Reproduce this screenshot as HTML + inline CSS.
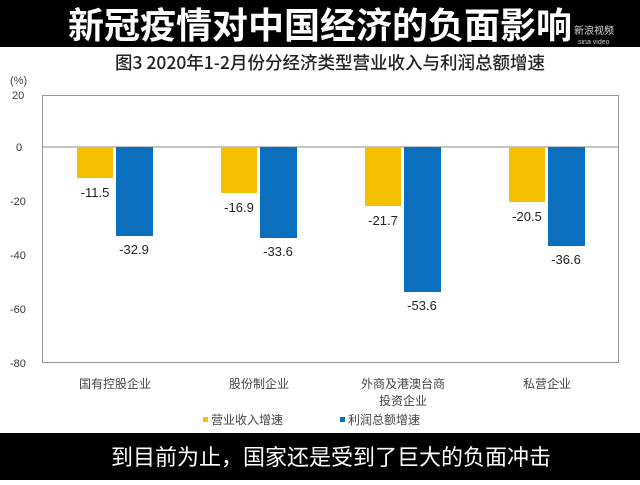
<!DOCTYPE html>
<html><head><meta charset="utf-8"><style>
body{margin:0;width:640px;height:480px;overflow:hidden;background:#fff;font-family:"Liberation Sans","Noto Sans CJK SC",sans-serif}
</style></head><body>
<svg width="640" height="480" xmlns="http://www.w3.org/2000/svg" font-family="'Liberation Sans','Noto Sans CJK SC',sans-serif">
<rect width="640" height="480" fill="#fff"/>
<rect x="0" y="0" width="640" height="47" fill="#000"/>
<text x="320" y="38" font-size="36" font-weight="bold" fill="#fff" text-anchor="middle" font-family="'Noto Sans CJK SC',sans-serif">新冠疫情对中国经济的负面影响</text>
<text x="574" y="34" font-size="10" fill="#ddd" font-family="'Noto Sans CJK SC',sans-serif">新浪视频</text>
<text x="578" y="44" font-size="7" fill="#ccc">sina video</text>
<text x="330" y="69" font-size="17.5" font-weight="500" fill="#222" text-anchor="middle" font-family="'Noto Sans CJK SC',sans-serif">图3  2020年1-2月份分经济类型营业收入与利润总额增速</text>
<text x="10" y="84" font-size="11" fill="#444">(%)</text>
<rect x="42.5" y="95.5" width="576" height="267" fill="none" stroke="#999" stroke-width="1"/>
<line x1="42" y1="147" x2="618" y2="147" stroke="#888" stroke-width="1"/>
<g font-size="11" fill="#333">
<text x="12" y="99">20</text><text x="16" y="151">0</text><text x="10" y="205">-20</text><text x="10" y="259">-40</text><text x="10" y="313">-60</text><text x="10" y="367">-80</text>
</g>
<g fill="#F5C000">
<rect x="77" y="147" width="36" height="31"/>
<rect x="221" y="147" width="36" height="46"/>
<rect x="365" y="147" width="36" height="59"/>
<rect x="509" y="147" width="36" height="55"/>
</g>
<g fill="#0A6FBF">
<rect x="116" y="147" width="37" height="89"/>
<rect x="260" y="147" width="37" height="91"/>
<rect x="404" y="147" width="37" height="145"/>
<rect x="548" y="147" width="37" height="99"/>
</g>
<g font-size="13" fill="#222" text-anchor="middle">
<text x="95" y="197">-11.5</text><text x="134" y="254">-32.9</text>
<text x="239" y="212">-16.9</text><text x="278" y="256">-33.6</text>
<text x="383" y="225">-21.7</text><text x="422" y="310">-53.6</text>
<text x="527" y="221">-20.5</text><text x="566" y="264">-36.6</text>
</g>
<g font-size="12" fill="#444" text-anchor="middle" font-family="'Noto Sans CJK SC',sans-serif">
<text x="115" y="388">国有控股企业</text>
<text x="259" y="388">股份制企业</text>
<text x="403" y="388">外商及港澳台商</text>
<text x="403" y="405">投资企业</text>
<text x="547" y="388">私营企业</text>
</g>
<rect x="203" y="417" width="5" height="5" fill="#F5C000"/>
<text x="211" y="424" font-size="12" fill="#444" font-family="'Noto Sans CJK SC',sans-serif">营业收入增速</text>
<rect x="340" y="417" width="5" height="5" fill="#0A6FBF"/>
<text x="348" y="424" font-size="12" fill="#444" font-family="'Noto Sans CJK SC',sans-serif">利润总额增速</text>
<rect x="0" y="433" width="640" height="47" fill="#000"/>
<text x="331" y="465" font-size="22" fill="#fff" text-anchor="middle" font-family="'Noto Sans CJK SC',sans-serif">到目前为止，国家还是受到了巨大的负面冲击</text>
</svg>
</body></html>
